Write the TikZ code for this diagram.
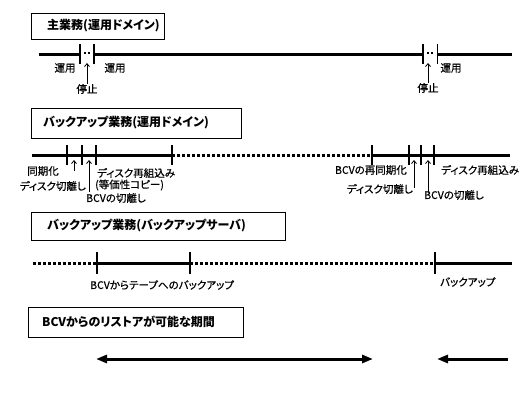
\documentclass[tikz,border=0pt]{standalone}
\usepackage{fontspec}
\setmainfont{Noto Sans CJK JP}[RawFeature=+palt]
\newfontfamily\lblfont{Noto Sans CJK JP}[RawFeature=+palt, FakeBold=0.6]
\usetikzlibrary{arrows.meta}
\begin{document}
\begin{tikzpicture}[x=1pt,y=-1pt,
  frame/.style={draw, line width=0.8pt, anchor=north west, inner sep=0pt},
  ttl/.style={font=\bfseries\fontsize{12}{14}\selectfont, inner sep=0pt, anchor=west},
  lbl/.style={font=\lblfont\fontsize{10.5}{12}\selectfont, inner sep=0pt},
  mainline/.style={line width=3pt},
  dotline/.style={line width=3pt, dash pattern=on 3pt off 2pt},
  tickmark/.style={line width=2.2pt},
  thintick/.style={line width=1pt},
  uparrow/.style={line width=0.8pt, -{Straight Barb[length=3pt,width=5pt]}},
  bigarrow/.style={line width=3pt},
  dot/.style={fill, minimum size=2pt, inner sep=0pt}
]
\useasboundingbox (0,0) rectangle (524,400);

% ---------- titles ----------
\node[frame, minimum width=133pt, minimum height=26pt] (b1) at (31,13) {};
\node[ttl] (t1) at (47,26) {主業務(運用ドメイン)};
\node[frame, minimum width=210pt, minimum height=30pt] (b2) at (31,108) {};
\node[ttl] (t2) at (43,123) {バックアップ業務(運用ドメイン)};
\node[frame, minimum width=254pt, minimum height=28pt] (b3) at (31,212) {};
\node[ttl] (t3) at (47,226) {バックアップ業務(バックアップサーバ)};
\node[frame, minimum width=215pt, minimum height=30pt] (b4) at (28,307) {};
\node[ttl] (t4) at (42,322) {BCVからのリストアが可能な期間};

% ---------- row 1 ----------
\coordinate (r1s) at (39,54);
\coordinate (r1a) at (80,54);
\coordinate (r1b) at (94,54);
\coordinate (r1c) at (423,54);
\coordinate (r1d) at (437,54);
\coordinate (r1e) at (512,54);
\draw[mainline] (r1s) -- (r1a);
\draw[mainline] (r1b) -- (r1c);
\draw[mainline] (r1d) -- (r1e);
\draw[tickmark] ([yshift=-10pt]r1a) -- ([yshift=10pt]r1a);
\draw[tickmark] ([yshift=-10pt]r1b) -- ([yshift=10pt]r1b);
\draw[tickmark] ([yshift=-10pt]r1c) -- ([yshift=10pt]r1c);
\draw[thintick] ([yshift=-10pt]r1d) -- ([yshift=10pt]r1d);
\node[dot] (d1) at (85,53) {};
\node[dot] (d2) at (89,53) {};
\node[dot] (d3) at (428,53) {};
\node[dot] (d4) at (432,53) {};
\node[lbl] (l1a) at (65,68) {運用};
\node[lbl] (l1b) at (115,68) {運用};
\node[lbl] (l1c) at (87,89) {停止};
\node[lbl] (l1d) at (428,88) {停止};
\node[lbl] (l1e) at (451,68) {運用};
\coordinate (a1) at (87,63);
\coordinate (a2) at (428,63);
\draw[uparrow] (l1c.north) -- (a1);
\draw[uparrow] (l1d.north) -- (a2);

% ---------- row 2 ----------
\coordinate (r2s) at (32,155);
\coordinate (r2p) at (67,155);
\coordinate (r2q) at (82,155);
\coordinate (r2r) at (96,155);
\coordinate (r2s2) at (172,155);
\coordinate (r2t) at (372,155);
\coordinate (r2u) at (409,155);
\coordinate (r2v) at (421,155);
\coordinate (r2w) at (434,155);
\coordinate (r2e) at (510,155);
\draw[mainline] (r2s) -- (r2s2);
\draw[dotline] (r2s2) -- (r2t);
\draw[mainline] (r2t) -- (r2e);
\foreach \c in {r2p,r2q,r2r,r2s2,r2t,r2u,r2v,r2w}
  \draw[tickmark] ([yshift=-10pt]\c) -- ([yshift=10pt]\c);
\node[lbl, anchor=east] (l2a) at (59,171) {同期化};
\node[lbl, anchor=east] (l2b) at (86,186) {ディスク切離し};
\node[lbl, anchor=west] (l2c) at (86,198) {BCVの切離し};
\node[lbl, anchor=west] (l2d) at (97,173) {ディスク再組込み};
\node[lbl, anchor=west] (l2e) at (95,185) {(等価性コピー)};
\node[lbl, anchor=east] (l2f) at (407,170) {BCVの再同期化};
\node[lbl, anchor=east] (l2g) at (413,189) {ディスク切離し};
\node[lbl, anchor=west] (l2h) at (424,195) {BCVの切離し};
\node[lbl, anchor=west] (l2i) at (441,170) {ディスク再組込み};
\coordinate (a3s) at (74,171);
\coordinate (a3e) at (74,160);
\coordinate (a4s) at (89,192);
\coordinate (a4e) at (89,160);
\coordinate (a5s) at (414,188);
\coordinate (a5e) at (414,160);
\coordinate (a6s) at (428,192);
\coordinate (a6e) at (428,160);
\draw[uparrow] (a3s) -- (a3e);
\draw[uparrow] (a4s) -- (a4e);
\draw[uparrow] (a5s) -- (a5e);
\draw[uparrow] (a6s) -- (a6e);

% ---------- row 3 ----------
\coordinate (r3s) at (33,263);
\coordinate (r3a) at (97,263);
\coordinate (r3b) at (190,263);
\coordinate (r3c) at (435,263);
\coordinate (r3e) at (512,263);
\draw[dotline] (r3s) -- (r3a);
\draw[mainline] (r3a) -- (r3b);
\draw[dotline] (r3b) -- (r3c);
\draw[mainline] (r3c) -- (r3e);
\foreach \c in {r3a,r3b,r3c}
  \draw[tickmark] ([yshift=-11pt]\c) -- ([yshift=11pt]\c);
\node[lbl, anchor=west] (l3a) at (90,285) {BCVからテープへのバックアップ};
\node[lbl, anchor=west] (l3b) at (440,282) {バックアップ};

% ---------- row 4 ----------
\coordinate (r4a) at (96,359);
\coordinate (r4b) at (373,359);
\coordinate (r4c) at (508,359);
\coordinate (r4d) at (437,359);
\draw[bigarrow, {Triangle[length=11pt,width=8pt]}-{Triangle[length=11pt,width=8pt]}] (r4a) -- (r4b);
\draw[bigarrow, -{Triangle[length=11pt,width=8pt]}] (r4c) -- (r4d);
\end{tikzpicture}
\end{document}
